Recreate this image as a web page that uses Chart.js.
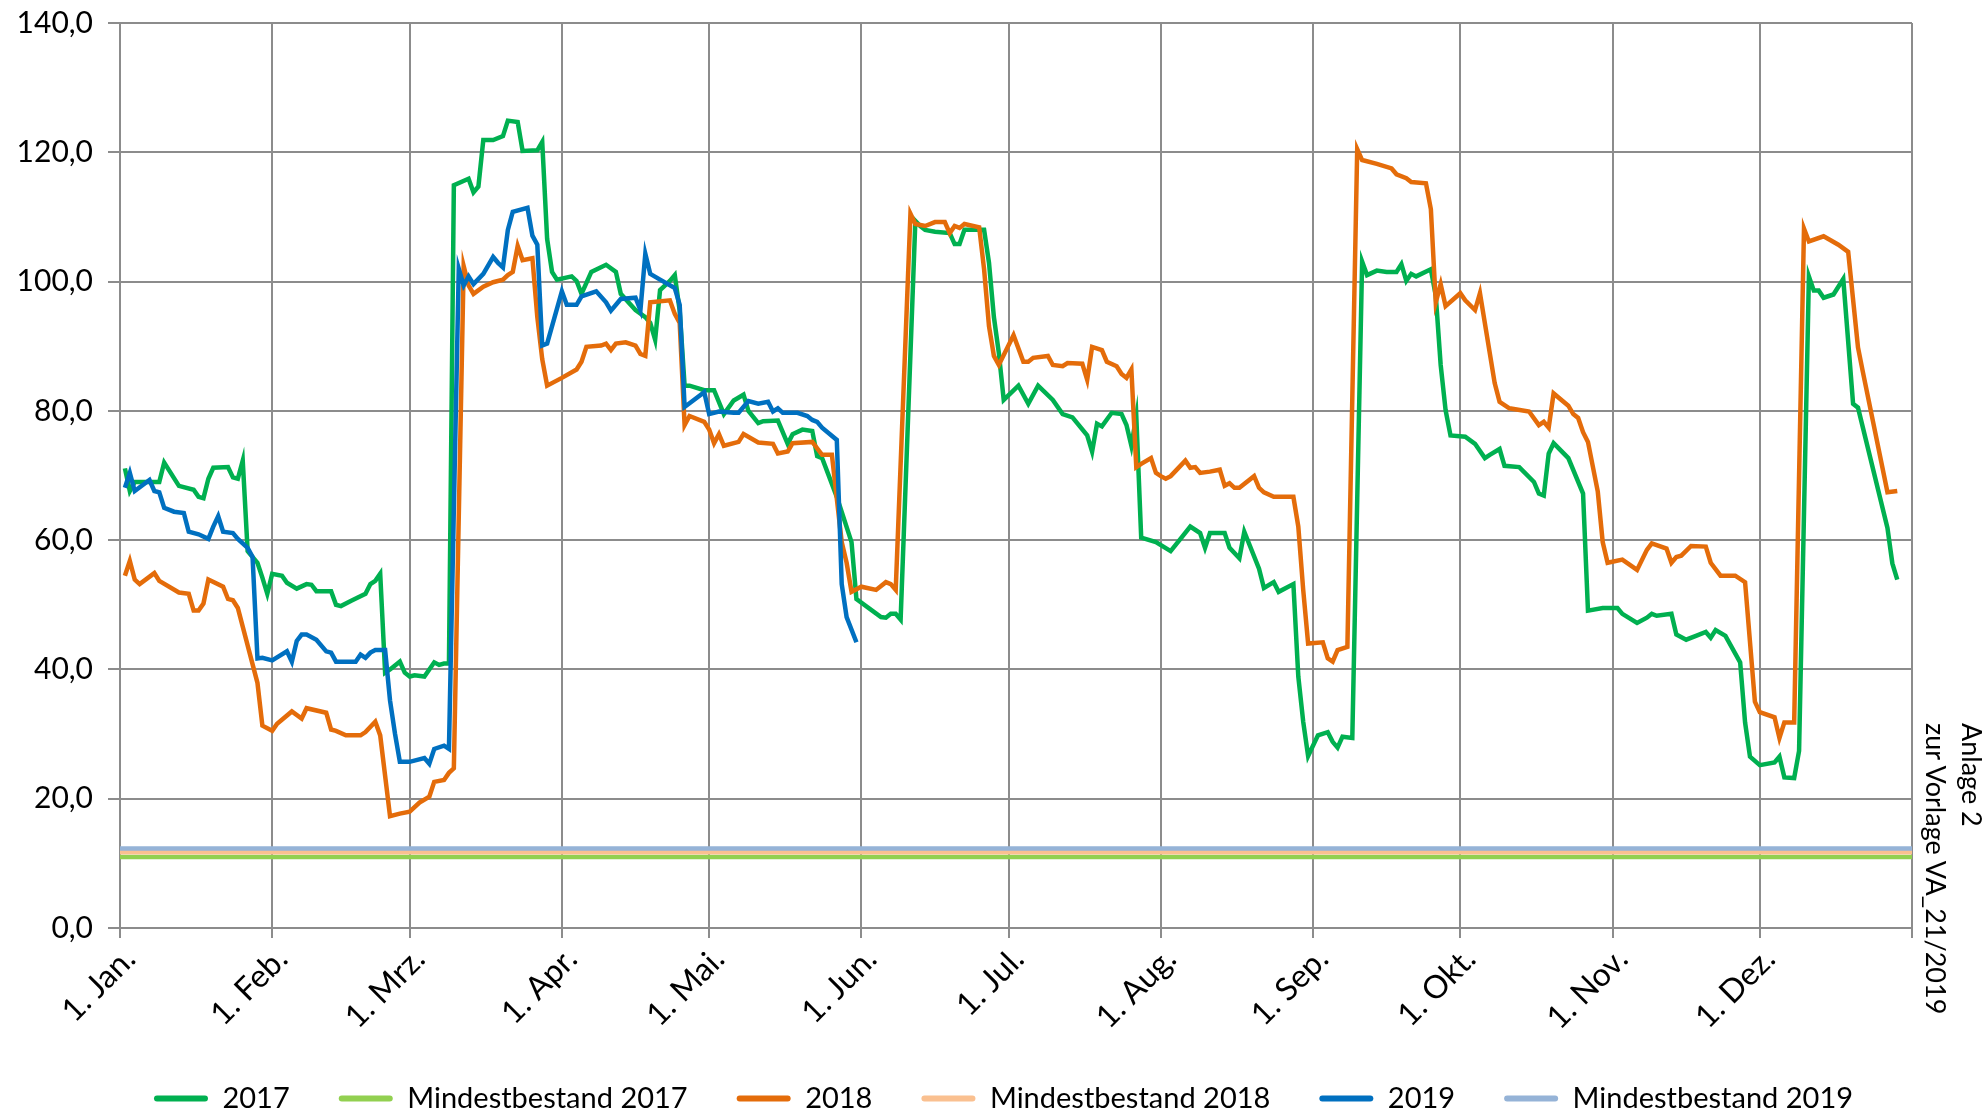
<!DOCTYPE html>
<html>
<head>
<meta charset="utf-8">
<script src="https://cdn.jsdelivr.net/npm/chart.js@4.4.1/dist/chart.umd.min.js"></script>
<style>
  html, body { margin: 0; padding: 0; background: #fff; overflow: hidden; }
  #wrap { position: relative; width: 1988px; height: 1112px; }
  #note {
    position: absolute; left: 1990px; top: 723px;
    transform-origin: 0 0; transform: rotate(90deg);
    font-family: Lato, sans-serif; font-size: 27px; line-height: 36px;
    white-space: nowrap; color: #000;
  }
</style>
</head>
<body>
<div id="wrap">
  <canvas id="chart" width="1988" height="1112"></canvas>
  <div id="note">Anlage 2<br>zur Vorlage VA_21/2019</div>
</div>
<script>
// x axis: day of year (0 = 1. Jan.)
const monthStarts = [0, 31, 59, 90, 120, 151, 181, 212, 243, 273, 304, 334];
const monthLabels = ['1. Jan.', '1. Feb.', '1. Mrz.', '1. Apr.', '1. Mai.', '1. Jun.',
  '1. Jul.', '1. Aug.', '1. Sep.', '1. Okt.', '1. Nov.', '1. Dez.'];
const yearDays = [0, 365];
const yTicks = [0, 20, 40, 60, 80, 100, 120, 140];

// [day, value]
const stock2017 = [
  [1, 71.1], [2, 67.6], [3, 69.0], [8, 69.0], [9, 72.0], [12, 68.4], [15, 67.8], [16, 66.7], [17, 66.5], [18, 69.5],
  [19, 71.2], [22, 71.3], [23, 69.7], [24, 69.5], [25, 72.3], [26, 58.3], [28, 56.5], [29, 54.2], [30, 51.7], [31, 54.8],
  [33, 54.5], [34, 53.4], [36, 52.5], [38, 53.2], [39, 53.1], [40, 52.1], [43, 52.1], [44, 50.0], [45, 49.8], [47, 50.6],
  [50, 51.7], [51, 53.2], [52, 53.7], [53, 54.8], [54, 39.5], [55, 40.0], [57, 41.2], [58, 39.5], [59, 38.9], [60, 39.1],
  [62, 38.9], [63, 40.0], [64, 41.1], [65, 40.7], [66, 40.9], [67, 40.9], [68, 114.9], [71, 115.9], [72, 113.8], [73, 114.7],
  [74, 121.9], [76, 121.9], [78, 122.5], [79, 124.9], [81, 124.7], [82, 120.2], [85, 120.3], [86, 121.6], [87, 106.6], [88, 101.5],
  [89, 100.3], [92, 100.8], [93, 100.1], [94, 98.1], [96, 101.5], [99, 102.6], [101, 101.5], [102, 98.1], [105, 95.6], [107, 94.5],
  [108, 93.6], [109, 91.0], [110, 98.7], [112, 100.1], [113, 101.0], [114, 95.5], [115, 83.9], [116, 83.9], [119, 83.2], [121, 83.2],
  [123, 79.5], [125, 81.6], [127, 82.5], [128, 80.0], [130, 78.1], [131, 78.4], [134, 78.5], [136, 74.9], [137, 76.4], [139, 77.1],
  [141, 76.9], [142, 73.0], [143, 72.7], [146, 66.7], [149, 59.7], [150, 50.9], [155, 48.1], [156, 48.0], [157, 48.6], [158, 48.6],
  [159, 47.7], [162, 109.4], [163, 108.6], [164, 108.0], [166, 107.7], [169, 107.5], [170, 105.8], [171, 105.8], [172, 108.0], [176, 108.0],
  [177, 102.9], [178, 94.5], [179, 89.0], [180, 81.7], [183, 83.9], [185, 81.1], [187, 83.9], [190, 81.7], [192, 79.5], [194, 79.0],
  [197, 76.2], [198, 73.7], [199, 78.0], [200, 77.6], [202, 79.7], [204, 79.5], [205, 77.8], [206, 74.6], [207, 79.2], [208, 60.4],
  [211, 59.7], [214, 58.3], [216, 60.2], [218, 62.1], [220, 61.1], [221, 58.8], [222, 61.1], [225, 61.1], [226, 58.8], [228, 57.2],
  [229, 61.3], [232, 55.6], [233, 52.6], [235, 53.5], [236, 52.0], [239, 53.2], [240, 38.9], [241, 31.9], [242, 26.6], [244, 29.8],
  [246, 30.3], [247, 28.8], [248, 27.9], [249, 29.6], [251, 29.4], [253, 103.1], [254, 101.0], [256, 101.7], [258, 101.5], [260, 101.5],
  [261, 102.7], [262, 100.1], [263, 101.2], [264, 100.8], [267, 101.9], [268, 97.8], [269, 87.1], [270, 80.1], [271, 76.2], [274, 76.0],
  [276, 74.9], [278, 72.7], [279, 73.2], [281, 74.1], [282, 71.5], [285, 71.3], [288, 69.0], [289, 67.2], [290, 66.9], [291, 73.4],
  [292, 75.0], [295, 72.7], [298, 67.2], [299, 49.1], [302, 49.5], [305, 49.5], [306, 48.6], [309, 47.2], [311, 48.0], [312, 48.6],
  [313, 48.3], [316, 48.6], [317, 45.4], [319, 44.6], [321, 45.2], [323, 45.8], [324, 44.9], [325, 46.1], [327, 45.2], [330, 41.1],
  [331, 31.8], [332, 26.5], [334, 25.2], [337, 25.6], [338, 26.5], [339, 23.3], [341, 23.2], [342, 27.4], [344, 100.8], [345, 98.6],
  [346, 98.6], [347, 97.5], [349, 98.0], [351, 100.4], [353, 81.1], [354, 80.5], [360, 61.9], [361, 56.4], [362, 53.9]
];

const stock2018 = [
  [1, 54.5], [2, 56.8], [3, 53.9], [4, 53.2], [7, 54.9], [8, 53.7], [12, 51.9], [14, 51.7], [15, 49.1], [16, 49.1],
  [17, 50.2], [18, 53.9], [21, 52.8], [22, 50.9], [23, 50.7], [24, 49.5], [28, 37.9], [29, 31.3], [31, 30.5], [32, 31.6],
  [35, 33.5], [37, 32.4], [38, 34.0], [42, 33.3], [43, 30.7], [44, 30.5], [46, 29.8], [49, 29.8], [50, 30.3], [52, 31.9],
  [53, 29.8], [55, 17.3], [57, 17.7], [59, 18.0], [61, 19.4], [63, 20.3], [64, 22.6], [66, 22.9], [67, 24.0], [68, 24.7],
  [70, 102.4], [71, 99.4], [72, 98.1], [74, 99.2], [76, 99.9], [78, 100.3], [79, 101.0], [80, 101.5], [81, 105.5], [82, 103.3],
  [84, 103.6], [85, 94.5], [86, 88.0], [87, 83.9], [90, 85.1], [93, 86.4], [94, 87.6], [95, 89.9], [98, 90.1], [99, 90.4],
  [100, 89.4], [101, 90.4], [103, 90.6], [105, 90.1], [106, 88.8], [107, 88.5], [108, 96.8], [112, 97.1], [113, 95.0], [114, 93.6],
  [115, 77.8], [116, 79.2], [119, 78.3], [120, 77.1], [121, 75.0], [122, 76.4], [123, 74.6], [126, 75.2], [127, 76.4], [130, 75.1],
  [133, 74.9], [134, 73.4], [136, 73.7], [137, 75.0], [141, 75.2], [143, 73.2], [145, 73.2], [147, 59.7], [148, 56.5], [149, 52.0],
  [151, 52.8], [154, 52.3], [156, 53.5], [157, 53.2], [158, 52.3], [161, 110.5], [162, 108.9], [164, 108.6], [166, 109.2], [168, 109.2],
  [169, 107.5], [170, 108.6], [171, 108.3], [172, 108.9], [175, 108.4], [176, 101.9], [177, 93.1], [178, 88.5], [179, 87.1], [182, 91.7],
  [184, 87.6], [185, 87.6], [186, 88.2], [189, 88.5], [190, 87.1], [192, 86.9], [193, 87.4], [196, 87.3], [197, 84.8], [198, 89.9],
  [200, 89.4], [201, 87.6], [203, 86.9], [204, 85.7], [205, 85.1], [206, 86.4], [207, 71.3], [208, 71.8], [210, 72.7], [211, 70.4],
  [212, 69.9], [213, 69.5], [214, 69.9], [217, 72.3], [218, 71.2], [219, 71.3], [220, 70.4], [222, 70.6], [224, 70.9], [225, 68.4],
  [226, 68.8], [227, 68.1], [228, 68.1], [231, 69.9], [232, 68.1], [233, 67.4], [235, 66.7], [239, 66.7], [240, 62.1], [241, 52.3],
  [242, 44.0], [245, 44.2], [246, 41.7], [247, 41.2], [248, 43.0], [250, 43.5], [252, 120.5], [253, 118.8], [256, 118.2], [259, 117.5],
  [260, 116.6], [262, 116.0], [263, 115.4], [266, 115.2], [267, 111.2], [268, 96.8], [269, 99.6], [270, 96.2], [273, 98.2], [274, 97.1],
  [276, 95.6], [277, 98.2], [280, 84.3], [281, 81.4], [283, 80.4], [287, 79.9], [289, 77.8], [290, 78.3], [291, 77.4], [292, 82.7],
  [295, 80.8], [296, 79.5], [297, 78.9], [298, 76.7], [299, 75.2], [301, 67.5], [302, 59.7], [303, 56.5], [306, 57.0], [309, 55.4],
  [311, 58.5], [312, 59.5], [315, 58.7], [316, 56.5], [317, 57.4], [318, 57.6], [320, 59.1], [323, 59.0], [324, 56.5], [326, 54.5],
  [329, 54.5], [331, 53.5], [333, 35.0], [334, 33.4], [337, 32.6], [338, 29.4], [339, 31.8], [341, 31.8], [343, 108.2], [344, 106.2],
  [347, 107.0], [350, 105.7], [352, 104.6], [354, 89.8], [355, 86.0], [360, 67.4], [362, 67.6]
];

const stock2019 = [
  [1, 68.1], [2, 70.4], [3, 67.6], [6, 69.3], [7, 67.6], [8, 67.4], [9, 65.0], [11, 64.4], [13, 64.2], [14, 61.3],
  [16, 60.9], [18, 60.2], [19, 62.1], [20, 63.7], [21, 61.3], [23, 61.1], [24, 60.2], [26, 58.8], [27, 57.4], [28, 41.7],
  [29, 41.8], [31, 41.4], [34, 42.8], [35, 41.2], [36, 44.4], [37, 45.4], [38, 45.4], [40, 44.6], [42, 42.8], [43, 42.6],
  [44, 41.2], [48, 41.2], [49, 42.3], [50, 41.8], [51, 42.6], [52, 43.0], [54, 43.0], [55, 35.2], [56, 30.1], [57, 25.7],
  [59, 25.7], [62, 26.3], [63, 25.4], [64, 27.7], [66, 28.2], [67, 27.7], [69, 102.0], [70, 99.4], [71, 100.8], [72, 99.6],
  [74, 101.2], [76, 103.8], [77, 102.9], [78, 102.2], [79, 108.0], [80, 110.8], [83, 111.4], [84, 107.1], [85, 105.7], [86, 90.1],
  [87, 90.4], [90, 98.5], [91, 96.4], [93, 96.4], [94, 97.7], [97, 98.5], [99, 96.8], [100, 95.5], [102, 97.3], [105, 97.5],
  [106, 95.6], [107, 104.3], [108, 101.2], [110, 100.3], [113, 99.0], [114, 96.4], [115, 80.6], [119, 82.9], [120, 79.5], [122, 79.9],
  [125, 79.7], [126, 79.7], [128, 81.5], [130, 81.1], [132, 81.4], [133, 79.9], [134, 80.4], [135, 79.7], [138, 79.7], [140, 79.2],
  [141, 78.6], [142, 78.3], [143, 77.4], [146, 75.5], [147, 53.2], [148, 48.1], [150, 44.2]
];

// Mindestbestand (constant over the year)
const minimum2017 = 11.0;
const minimum2018 = 11.7;
const minimum2019 = 12.3;

const seriesColors = {
  s2017: '#00B050',
  m2017: '#92D050',
  s2018: '#E46C0A',
  m2018: '#FAC090',
  s2019: '#0070C0',
  m2019: '#95B3D7',
};

const gridColor = '#8c8c8c';
const fontFamily = 'Lato, "Open Sans", sans-serif';

const toPoints = (pairs) => pairs.map(([x, y]) => ({ x, y }));
const flatLine = (value) => yearDays.map((x) => ({ x, y: value }));

function lineDataset(label, data, color, order) {
  return {
    label,
    data,
    borderColor: color,
    backgroundColor: color,
    borderWidth: 4.5,
    pointRadius: 0,
    tension: 0,
    fill: false,
    order, // later series are drawn on top
  };
}

// shrink legend block so labels sit close to the bottom edge
const legendFitPlugin = {
  id: 'legendFit',
  beforeInit(chart) {
    const legend = chart.legend;
    if (!legend) return;
    const origFit = legend.fit;
    legend.fit = function () {
      origFit.call(this);
      this.height = 77;
    };
  },
};

const ctx = document.getElementById('chart').getContext('2d');
const chart = new Chart(ctx, {
  type: 'line',
  data: {
    datasets: [
      lineDataset('2017', toPoints(stock2017), seriesColors.s2017, 6),
      lineDataset('Mindestbestand 2017', flatLine(minimum2017), seriesColors.m2017, 5),
      lineDataset('2018', toPoints(stock2018), seriesColors.s2018, 4),
      lineDataset('Mindestbestand 2018', flatLine(minimum2018), seriesColors.m2018, 3),
      lineDataset('2019', toPoints(stock2019), seriesColors.s2019, 2),
      lineDataset('Mindestbestand 2019', flatLine(minimum2019), seriesColors.m2019, 1),
    ],
  },
  options: {
    responsive: false,
    animation: false,
    layout: { padding: { top: 23, right: 0, left: 19, bottom: 0 } },
    plugins: {
      legend: {
        position: 'bottom',
        labels: {
          color: '#000',
          font: { family: fontFamily, size: 29 },
          boxWidth: 54,
          boxHeight: 6,
          padding: 49,
          sort: (a, b) => a.datasetIndex - b.datasetIndex,
          generateLabels(chart) {
            const items = Chart.defaults.plugins.legend.labels.generateLabels(chart);
            return items.map((item) => ({
              ...item,
              fillStyle: item.strokeStyle,
              lineWidth: 0,
              borderRadius: 3,
            }));
          },
        },
      },
      tooltip: { enabled: false },
    },
    scales: {
      x: {
        type: 'linear',
        min: yearDays[0],
        max: yearDays[1],
        afterBuildTicks(scale) {
          scale.ticks = monthStarts.concat([yearDays[1]]).map((v) => ({ value: v }));
        },
        afterFit(scale) {
          scale.height = 107;
        },
        ticks: {
          autoSkip: false,
          minRotation: 45,
          maxRotation: 45,
          padding: 2,
          labelOffset: 10,
          color: '#000',
          font: { family: fontFamily, size: 32 },
          callback(value) {
            const i = monthStarts.indexOf(value);
            return i >= 0 ? monthLabels[i] : '';
          },
        },
        grid: { color: gridColor, lineWidth: 2, tickLength: 10 },
        border: { color: gridColor, width: 2 },
      },
      y: {
        min: yTicks[0],
        max: yTicks[yTicks.length - 1],
        afterBuildTicks(scale) {
          scale.ticks = yTicks.map((v) => ({ value: v }));
        },
        afterFit(scale) {
          scale.width = 101;
        },
        ticks: {
          padding: 15,
          color: '#000',
          // small lineHeight keeps the top label from pushing the plot down
          font: { family: fontFamily, size: 30, lineHeight: 0.5 },
          callback: (value) => value.toFixed(1).replace('.', ','),
        },
        grid: { color: gridColor, lineWidth: 2, tickLength: 12 },
        border: { color: gridColor, width: 2 },
      },
      // empty right axis only reserves room for the side note
      yRight: {
        position: 'right',
        display: true,
        ticks: { display: false },
        grid: { display: false, drawTicks: false },
        border: { display: false },
        afterFit(scale) {
          scale.width = 76;
        },
      },
    },
  },
  plugins: [legendFitPlugin],
});
</script>
</body>
</html>
